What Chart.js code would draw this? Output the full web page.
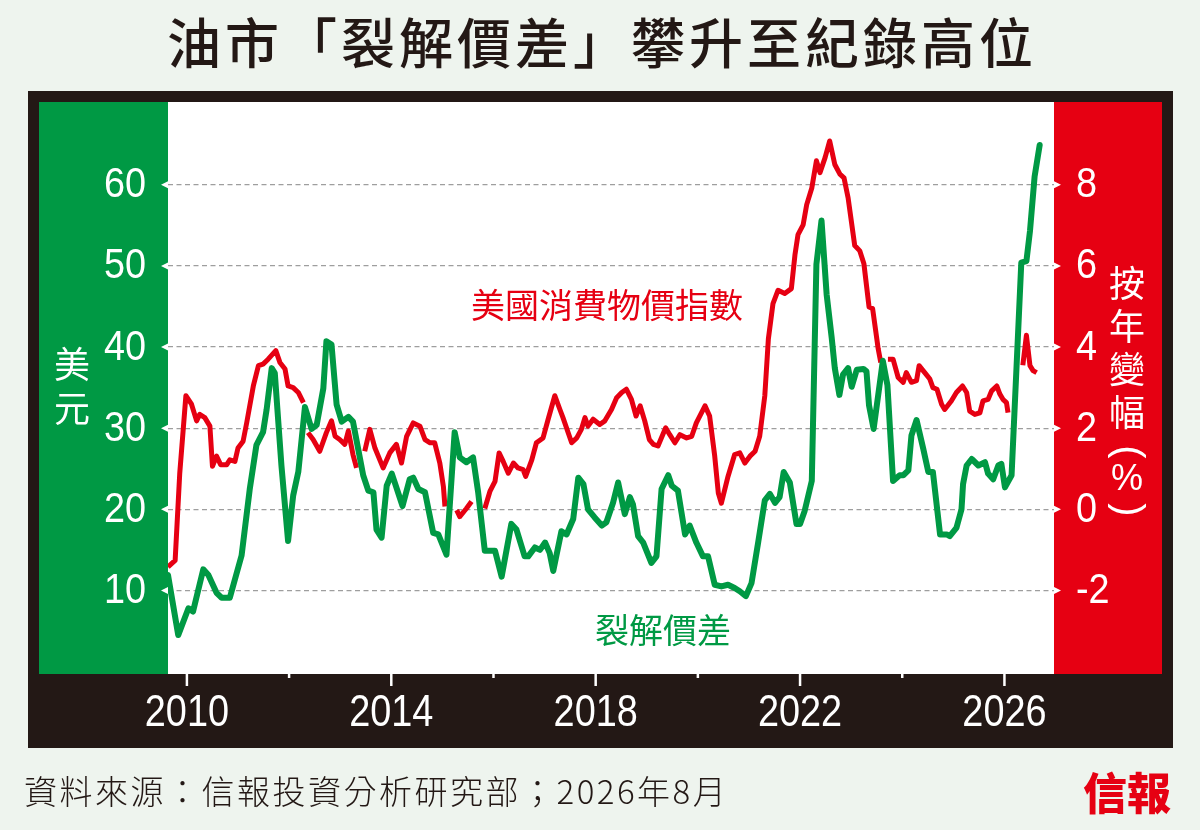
<!DOCTYPE html>
<html lang="zh-Hant">
<head>
<meta charset="utf-8">
<title>油市「裂解價差」攀升至紀錄高位</title>
<script src="https://cdn.jsdelivr.net/npm/chart.js@4.4.1/dist/chart.umd.min.js"></script>
<style>
  html, body { margin: 0; padding: 0; background: #eef4ee; }
  #wrap { width: 1200px; height: 830px; }
</style>
</head>
<body>
<div id="wrap"><canvas id="chart" width="1200" height="830"></canvas></div>
<script>
// 裂解價差 (美元), vertex by vertex
const crackYears = [
  2009.63, 2009.83, 2010.03, 2010.12, 2010.32, 2010.42, 2010.58, 2010.68, 2010.84, 2011.07,
  2011.23, 2011.36, 2011.49, 2011.56, 2011.66, 2011.72, 2011.85, 2011.98, 2012.08, 2012.18,
  2012.31, 2012.44, 2012.54, 2012.67, 2012.73, 2012.83, 2012.93, 2013.03, 2013.16, 2013.25,
  2013.45, 2013.55, 2013.65, 2013.71, 2013.81, 2013.91, 2014.01, 2014.22, 2014.36, 2014.43,
  2014.53, 2014.66, 2014.82, 2014.92, 2015.08, 2015.24, 2015.34, 2015.47, 2015.60, 2015.70,
  2015.83, 2016.03, 2016.16, 2016.35, 2016.45, 2016.61, 2016.68, 2016.81, 2016.91, 2017.01,
  2017.10, 2017.17, 2017.33, 2017.43, 2017.56, 2017.66, 2017.76, 2017.85, 2017.98, 2018.12,
  2018.21, 2018.34, 2018.44, 2018.57, 2018.67, 2018.73, 2018.83, 2018.93, 2019.09, 2019.19,
  2019.29, 2019.42, 2019.49, 2019.61, 2019.75, 2019.84, 2019.97, 2020.10, 2020.20, 2020.33,
  2020.46, 2020.59, 2020.72, 2020.82, 2020.94, 2021.05, 2021.18, 2021.31, 2021.41, 2021.51,
  2021.60, 2021.68, 2021.80, 2021.93, 2022.00, 2022.09, 2022.23, 2022.32, 2022.42, 2022.52,
  2022.62, 2022.68, 2022.77, 2022.84, 2022.94, 2023.01, 2023.11, 2023.24, 2023.30, 2023.35,
  2023.44, 2023.62, 2023.71, 2023.82, 2023.95, 2024.02, 2024.12, 2024.18, 2024.28, 2024.41,
  2024.51, 2024.60, 2024.74, 2024.87, 2024.93, 2025.06, 2025.16, 2025.19, 2025.26, 2025.36,
  2025.49, 2025.62, 2025.68, 2025.78, 2025.88, 2025.94, 2026.01, 2026.14, 2026.33, 2026.43,
  2026.50, 2026.59, 2026.69
];
const crackSpread = [
  11.9, 4.5, 7.8, 7.4, 12.6, 11.9, 9.7, 9.1, 9.1, 14.3,
  22.5, 27.9, 29.5, 32.3, 37.4, 36.8, 25.4, 16.1, 21.7, 24.6,
  32.6, 29.9, 30.4, 34.9, 40.7, 40.3, 32.9, 30.8, 31.4, 30.8,
  24.2, 22.3, 22.1, 17.5, 16.5, 22.9, 24.4, 20.4, 23.7, 23.9,
  22.5, 22.1, 17.1, 16.9, 14.4, 29.5, 26.4, 25.8, 26.4, 22.1,
  14.9, 14.9, 11.7, 18.2, 17.5, 14.2, 14.2, 15.3, 15.0, 15.9,
  14.6, 12.4, 17.3, 16.9, 18.8, 23.9, 23.1, 20.0, 19.0, 18.0,
  18.4, 20.8, 23.3, 19.4, 21.5, 20.6, 16.7, 15.9, 13.4, 14.2,
  22.5, 24.2, 22.9, 22.3, 16.9, 18.0, 15.9, 14.2, 14.2, 10.7,
  10.5, 10.7, 10.3, 9.9, 9.3, 10.9, 15.9, 21.1, 21.9, 20.8,
  21.5, 24.6, 23.3, 18.2, 18.2, 19.8, 23.5, 50.2, 55.6, 46.5,
  41.1, 37.4, 34.1, 36.6, 37.4, 35.1, 37.2, 37.3, 37.0, 32.8,
  29.9, 38.3, 35.3, 23.5, 24.2, 24.2, 24.8, 29.1, 31.0, 27.5,
  24.6, 24.6, 16.9, 16.9, 16.7, 17.7, 20.0, 23.1, 25.4, 26.2,
  25.4, 25.8, 24.4, 23.7, 25.4, 25.6, 22.7, 24.2, 50.4, 50.6,
  54.3, 61.0, 64.9
];

// 美國消費物價指數 按年變幅 (%) - null where the red line is broken in the picture
const cpiYears = [
  2009.63, 2009.77, 2009.86, 2009.98, 2010.09, 2010.19, 2010.25, 2010.35, 2010.45, 2010.50,
  2010.58, 2010.66, 2010.78, 2010.84, 2010.94, 2011.00, 2011.10, 2011.17, 2011.30, 2011.40,
  2011.49, 2011.59, 2011.74, 2011.82, 2011.92, 2011.98, 2012.08, 2012.18, 2012.28,
  2012.32,
  2012.37, 2012.47, 2012.60, 2012.73, 2012.83, 2012.90, 2012.99, 2013.09, 2013.16, 2013.25, 2013.32,
  2013.40,
  2013.48, 2013.58, 2013.68, 2013.84, 2013.97, 2014.10, 2014.20, 2014.30, 2014.43, 2014.56,
  2014.66, 2014.76, 2014.85, 2014.95, 2015.02, 2015.05,
  2015.16,
  2015.28, 2015.34, 2015.47, 2015.57,
  2015.70,
  2015.83, 2015.93, 2016.03, 2016.11, 2016.19, 2016.29, 2016.39, 2016.48, 2016.58, 2016.63,
  2016.75, 2016.84, 2016.97, 2017.07, 2017.20, 2017.30, 2017.36, 2017.53, 2017.63, 2017.72,
  2017.79, 2017.85, 2017.95, 2018.08, 2018.18, 2018.31, 2018.41, 2018.51, 2018.60, 2018.70,
  2018.79, 2018.87, 2018.96, 2019.05, 2019.13, 2019.22, 2019.37, 2019.45, 2019.55, 2019.65,
  2019.78, 2019.88, 2019.97, 2020.14, 2020.23, 2020.33, 2020.40, 2020.46, 2020.59, 2020.72,
  2020.82, 2020.92, 2021.02, 2021.12, 2021.21, 2021.31, 2021.38, 2021.47, 2021.57, 2021.70,
  2021.83, 2021.90, 2021.96, 2022.06, 2022.13, 2022.23, 2022.32, 2022.39, 2022.49, 2022.58,
  2022.68, 2022.78, 2022.86, 2022.94, 2023.07, 2023.17, 2023.25, 2023.35, 2023.42, 2023.53,
  2023.58,
  2023.65,
  2023.72, 2023.82, 2023.92, 2024.02, 2024.08, 2024.18, 2024.28, 2024.33, 2024.44, 2024.54,
  2024.60, 2024.68, 2024.77, 2024.83, 2024.96, 2025.06, 2025.18, 2025.26, 2025.32, 2025.42,
  2025.52, 2025.58, 2025.68, 2025.75, 2025.85, 2025.91, 2025.97, 2026.04, 2026.07,
  2026.20,
  2026.36, 2026.43, 2026.50, 2026.56, 2026.63
];
const cpiYoY = [
  -1.42, -1.26, 0.89, 2.80, 2.59, 2.18, 2.34, 2.26, 2.05, 1.06,
  1.31, 1.10, 1.10, 1.22, 1.18, 1.51, 1.68, 2.13, 3.04, 3.54,
  3.58, 3.70, 3.91, 3.62, 3.46, 3.04, 3.00, 2.88, 2.63,
  null,
  1.89, 1.72, 1.43, 1.89, 2.18, 1.80, 1.72, 1.60, 1.93, 1.35, 1.02,
  null,
  1.43, 1.97, 1.51, 1.02, 1.39, 1.60, 1.14, 1.80, 2.13, 2.05,
  1.72, 1.64, 1.64, 1.14, 0.56, 0.07,
  null,
  -0.02, -0.18, 0.02, 0.19,
  null,
  0.02, 0.44, 0.69, 1.39, 1.18, 0.89, 1.14, 1.02, 0.98, 0.81,
  1.22, 1.64, 1.76, 2.22, 2.80, 2.46, 2.26, 1.64, 1.76, 1.97,
  2.26, 2.05, 2.22, 2.09, 2.18, 2.46, 2.75, 2.88, 2.96, 2.71,
  2.30, 2.55, 2.18, 1.72, 1.60, 1.56, 2.01, 1.84, 1.64, 1.84,
  1.76, 1.80, 2.13, 2.55, 2.30, 1.31, 0.40, 0.15, 0.81, 1.35,
  1.39, 1.14, 1.31, 1.43, 1.80, 2.80, 4.20, 5.07, 5.40, 5.32,
  5.44, 6.27, 6.77, 7.01, 7.51, 7.92, 8.59, 8.30, 8.67, 9.08,
  8.50, 8.26, 8.17, 7.68, 6.50, 6.37, 6.05, 4.99, 4.95, 3.95,
  3.62,
  null,
  3.70, 3.70, 3.25, 3.13, 3.37, 3.13, 3.17, 3.54, 3.37, 3.21,
  3.00, 2.96, 2.59, 2.46, 2.67, 2.88, 3.04, 2.88, 2.42, 2.34,
  2.38, 2.67, 2.71, 2.92, 3.04, 2.84, 2.71, 2.63, 2.38,
  null,
  3.55, 4.29, 3.54, 3.42, 3.37
];

const leftTicks = [10, 20, 30, 40, 50, 60];
const rightTicks = [-2, 0, 2, 4, 6, 8];
const xTickYears = [2010, 2012, 2014, 2016, 2018, 2020, 2022, 2024, 2026];
const xLabelYears = [2010, 2014, 2018, 2022, 2026];

const GREEN = "#009944";
const RED = "#e60012";
const FRAME = "#231815";
const PAGE_BG = "#eef4ee";
const CJK = '"Noto Sans CJK TC", "Noto Sans CJK SC", sans-serif';
const NUM = '"Liberation Sans", Arial, sans-serif';

const pairs = (xs, ys) => xs.map((x, i) => ({ x, y: ys[i] }));

// the reference uses a condensed face for numbers, so squeeze Liberation Sans a little
function narrowText(ctx, text, x, y, align, squeeze) {
  ctx.save();
  ctx.translate(x, y);
  ctx.scale(squeeze, 1);
  ctx.textAlign = align;
  ctx.fillText(text, 0, 0);
  ctx.restore();
}

// panels behind the plot
const backdrop = {
  id: "backdrop",
  beforeDraw(chart) {
    const { ctx, chartArea: a, scales } = chart;
    ctx.save();
    ctx.fillStyle = PAGE_BG;
    ctx.fillRect(0, 0, chart.width, chart.height);
    ctx.fillStyle = FRAME;
    ctx.fillRect(28, 91, 1145, 657);
    ctx.fillStyle = GREEN;
    ctx.fillRect(scales.y.left, a.top, scales.y.width, a.height);
    ctx.fillStyle = RED;
    ctx.fillRect(scales.y1.left, a.top, scales.y1.width, a.height);
    ctx.fillStyle = "#ffffff";
    ctx.fillRect(a.left, a.top, a.width, a.height);
    ctx.restore();
  },
};

// tick marks, tick labels, texts, title and footer
const decorations = {
  id: "decorations",
  afterDraw(chart) {
    const { ctx, chartArea: a, scales } = chart;
    ctx.save();
    ctx.fillStyle = "#ffffff";
    ctx.textBaseline = "middle";

    // left axis: arrow heads and labels
    ctx.font = `42px ${NUM}`;
    leftTicks.forEach((v) => {
      const y = scales.y.getPixelForValue(v);
      ctx.beginPath();
      ctx.moveTo(a.left, y - 3.5);
      ctx.lineTo(a.left, y + 3.5);
      ctx.lineTo(a.left - 7, y);
      ctx.fill();
      narrowText(ctx, String(v), a.left - 22, y + 1, "right", 0.9);
    });
    // right axis
    rightTicks.forEach((v) => {
      const y = scales.y1.getPixelForValue(v);
      ctx.beginPath();
      ctx.moveTo(a.right, y - 3.5);
      ctx.lineTo(a.right, y + 3.5);
      ctx.lineTo(a.right + 7, y);
      ctx.fill();
      narrowText(ctx, String(v), a.right + 22, y + 1, "left", 0.9);
    });

    // x tick marks, long ones at labelled years
    ctx.strokeStyle = "#ffffff";
    ctx.lineWidth = 2.5;
    ctx.font = `44px ${NUM}`;
    xTickYears.forEach((yr) => {
      const x = scales.x.getPixelForValue(yr);
      const major = xLabelYears.includes(yr);
      ctx.beginPath();
      ctx.moveTo(x, a.bottom);
      ctx.lineTo(x, a.bottom + (major ? 12 : 4));
      ctx.stroke();
      if (major) narrowText(ctx, String(yr), x, 714, "center", 0.86);
    });

    ctx.textAlign = "center";

    // series names
    ctx.font = `34px ${CJK}`;
    ctx.fillStyle = RED;
    ctx.fillText("美國消費物價指數", 607, 305);
    ctx.fillStyle = GREEN;
    ctx.fillText("裂解價差", 663, 630);

    // axis titles, set vertically
    ctx.fillStyle = "#ffffff";
    ctx.font = `36px ${CJK}`;
    ctx.fillText("美", 72, 364);
    ctx.fillText("元", 72, 408);
    ["按", "年", "變", "幅"].forEach((ch, i) => ctx.fillText(ch, 1127, 283 + i * 43));
    ctx.font = `36px ${NUM}`;
    ctx.fillText("%", 1127, 480);
    ctx.font = `40px ${NUM}`;
    [["(", 452], [")", 510]].forEach(([ch, y]) => {
      ctx.save();
      ctx.translate(1127, y);
      ctx.rotate(Math.PI / 2);
      ctx.fillText(ch, 0, 0);
      ctx.restore();
    });

    // title
    ctx.fillStyle = "#231815";
    ctx.font = `500 54px ${CJK}`;
    ctx.letterSpacing = "4px";
    ctx.fillText("油市「裂解價差」攀升至紀錄高位", 602, 43);

    // source line
    ctx.textAlign = "left";
    ctx.font = `300 33px ${CJK}`;
    ctx.letterSpacing = "2.5px";
    ctx.fillText("資料來源：信報投資分析研究部；2026年8月", 24, 791);

    // masthead
    ctx.textAlign = "center";
    ctx.letterSpacing = "0px";
    ctx.fillStyle = RED;
    ctx.font = `900 44px ${CJK}`;
    ctx.fillText("信報", 1127, 793);

    ctx.restore();
  },
};

new Chart(document.getElementById("chart"), {
  type: "line",
  data: {
    datasets: [
      {
        label: "裂解價差",
        data: pairs(crackYears, crackSpread),
        yAxisID: "y",
        borderColor: GREEN,
        borderWidth: 6,
        borderJoinStyle: "round",
        borderCapStyle: "round",
        pointRadius: 0,
        tension: 0,
      },
      {
        label: "美國消費物價指數",
        data: pairs(cpiYears, cpiYoY),
        yAxisID: "y1",
        borderColor: RED,
        borderWidth: 5,
        borderJoinStyle: "round",
        borderCapStyle: "butt",
        pointRadius: 0,
        tension: 0,
        spanGaps: false,
      },
    ],
  },
  options: {
    responsive: false,
    animation: false,
    layout: { padding: { left: 39, right: 38, top: 102, bottom: 78 } },
    plugins: {
      legend: { display: false },
      tooltip: { enabled: false },
    },
    scales: {
      x: {
        type: "linear",
        min: 2009.63,
        max: 2026.97,
        afterBuildTicks: (scale) => {
          scale.ticks = xTickYears.map((value) => ({ value }));
        },
        afterFit: (scale) => {
          scale.height = 78;
        },
        grid: { display: false, drawTicks: false },
        border: { display: false },
        ticks: { display: false },
      },
      y: {
        position: "left",
        min: -0.3,
        max: 70.2,
        afterBuildTicks: (scale) => {
          scale.ticks = leftTicks.map((value) => ({ value }));
        },
        afterFit: (scale) => {
          scale.width = 129;
        },
        grid: { color: "#9e9e9e", lineWidth: 1.3, drawTicks: false },
        border: { display: false, dash: [5, 3.5] },
        ticks: { display: false },
      },
      y1: {
        position: "right",
        min: -4.06,
        max: 10.04,
        afterBuildTicks: (scale) => {
          scale.ticks = rightTicks.map((value) => ({ value }));
        },
        afterFit: (scale) => {
          scale.width = 108;
        },
        grid: { display: false, drawTicks: false },
        border: { display: false },
        ticks: { display: false },
      },
    },
  },
  plugins: [backdrop, decorations],
});
</script>
</body>
</html>
